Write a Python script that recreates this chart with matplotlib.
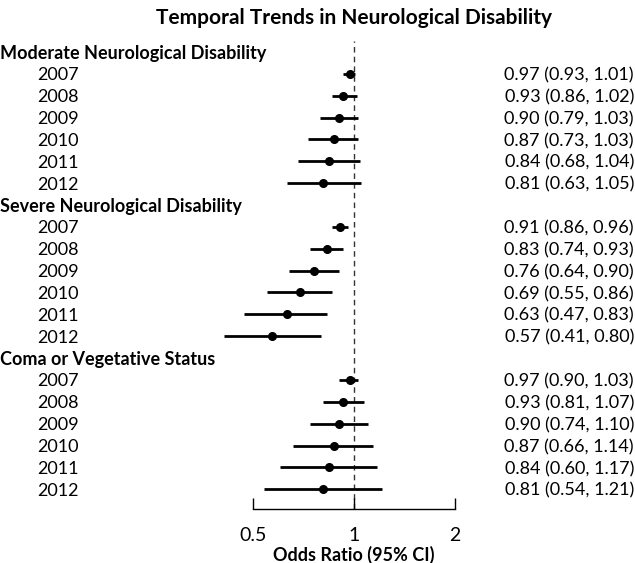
import matplotlib.pyplot as plt
from matplotlib.transforms import blended_transform_factory

# ---- Data ----
groups = ["Moderate Neurological Disability",
          "Severe Neurological Disability",
          "Coma or Vegetative Status"]
years = ["2007", "2008", "2009", "2010", "2011", "2012"]

moderate_or = [0.97, 0.93, 0.90, 0.87, 0.84, 0.81]
moderate_lo = [0.93, 0.86, 0.79, 0.73, 0.68, 0.63]
moderate_hi = [1.01, 1.02, 1.03, 1.03, 1.04, 1.05]

severe_or = [0.91, 0.83, 0.76, 0.69, 0.63, 0.57]
severe_lo = [0.86, 0.74, 0.64, 0.55, 0.47, 0.41]
severe_hi = [0.96, 0.93, 0.90, 0.86, 0.83, 0.80]

coma_or = [0.97, 0.93, 0.90, 0.87, 0.84, 0.81]
coma_lo = [0.90, 0.81, 0.74, 0.66, 0.60, 0.54]
coma_hi = [1.03, 1.07, 1.10, 1.14, 1.17, 1.21]

series = [(moderate_or, moderate_lo, moderate_hi),
          (severe_or, severe_lo, severe_hi),
          (coma_or, coma_lo, coma_hi)]

xticks = [0.5, 1, 2]
xtick_labels = ["0.5", "1", "2"]

plt.rcParams["font.family"] = ["Lato", "DejaVu Sans"]

W, H = 635, 563
fig = plt.figure(figsize=(W / 100, H / 100), dpi=100)
# axes spans the plotting column only; text columns sit outside it
ax = fig.add_axes([253 / W, 1 - 509 / H, (455 - 253) / W, (509 - 41) / H])
ax.set_xscale("log")
ax.set_xlim(0.5, 2)
ax.set_ylim(20.9, -0.5)

trans = blended_transform_factory(fig.transFigure, ax.transData)
fs = 13

row = 0
for gname, (est, lo, hi) in zip(groups, series):
    ax.text(0 / W, row, gname, transform=trans, ha="left",
            va="center_baseline", fontsize=fs, fontweight="bold")
    row += 1
    for yr, e, l, h in zip(years, est, lo, hi):
        ax.plot([l, h], [row, row], color="black", lw=2, clip_on=False,
                solid_capstyle="butt")
        ax.plot(e, row, "o", color="black", ms=5.5, clip_on=False)
        ax.text(37 / W, row, yr, transform=trans, ha="left",
                va="center_baseline", fontsize=fs)
        ax.text(634 / W, row, f"{e:.2f} ({l:.2f}, {h:.2f})", transform=trans,
                ha="right", va="center_baseline", fontsize=fs)
        row += 1

ax.axvline(1, color="#333333", lw=1, ls=(0, (4, 3)), zorder=0)

for s in ["top", "left", "right"]:
    ax.spines[s].set_visible(False)
ax.spines["bottom"].set_linewidth(1)
ax.set_yticks([])
ax.set_xticks(xticks)
ax.set_xticklabels(xtick_labels, fontsize=fs + 1)
ax.minorticks_off()
ax.tick_params(axis="x", direction="in", length=8, width=1, pad=13)
ax.set_xlabel("Odds Ratio (95% CI)", fontsize=fs, fontweight="bold",
              labelpad=1)

fig.text(354 / W, 1 - 18 / H, "Temporal Trends in Neurological Disability",
         ha="center", va="center", fontsize=15, fontweight="bold")

fig.savefig("out.png", dpi=100)
